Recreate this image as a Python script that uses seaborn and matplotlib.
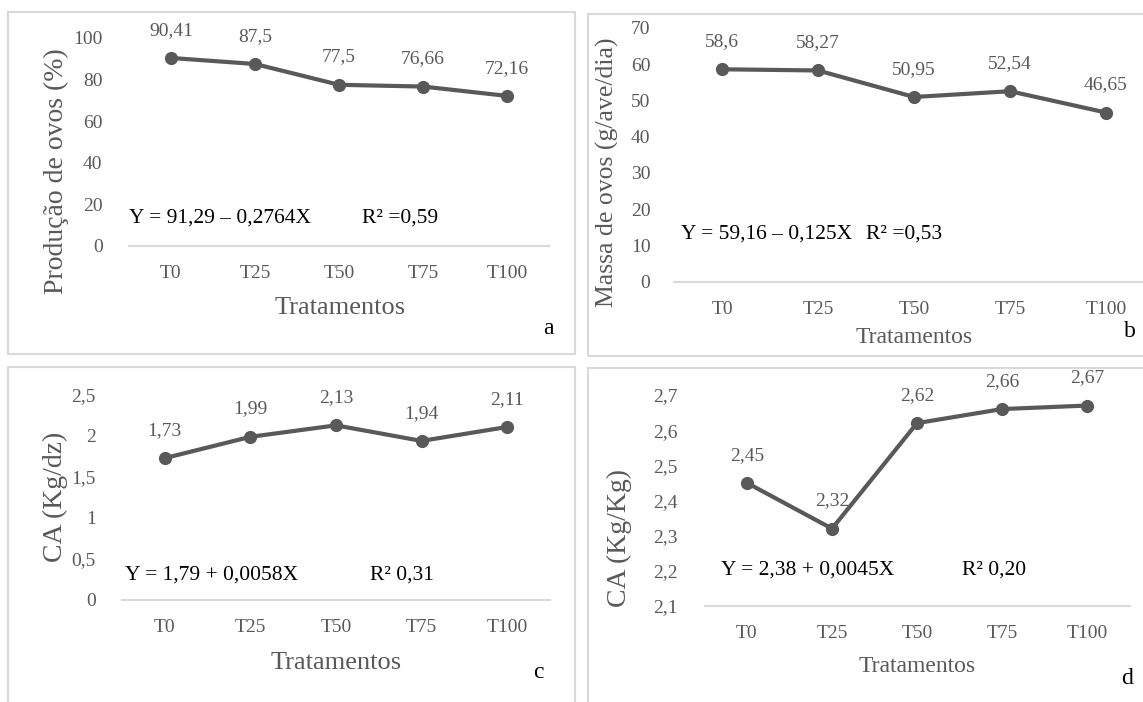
import matplotlib
matplotlib.use("Agg")
import matplotlib.pyplot as plt
from matplotlib.patches import Rectangle
import seaborn as sns

# dados
tratamentos = ["T0", "T25", "T50", "T75", "T100"]
producao = [90.41, 87.5, 77.5, 76.66, 72.16]
massa = [58.6, 58.27, 50.95, 52.54, 46.65]
ca_dz = [1.73, 1.99, 2.13, 1.94, 2.11]
ca_kg = [2.45, 2.32, 2.62, 2.66, 2.67]

ticks_a = [0, 20, 40, 60, 80, 100]
ticks_b = [0, 10, 20, 30, 40, 50, 60, 70]
ticks_c = [0, 0.5, 1, 1.5, 2, 2.5]
ticks_d = [2.1, 2.2, 2.3, 2.4, 2.5, 2.6, 2.7]

sns.set_style("white")
plt.rcParams["font.family"] = ["Liberation Serif", "DejaVu Serif"]

W, H = 1143, 702
fig = plt.figure(figsize=(W / 100, H / 100), dpi=100)
GRAY = "#595959"


def fx(x):
    return x / W


def fy(y):
    return 1 - y / H


def painel(rect_px, box_px, valores, yticks, ylabel, ylfs, ylpos, xlfs, xlpos,
           eq, eq_pos, r2, r2_pos, letra, letra_pos, ylpad):
    left, top, right, bottom = rect_px
    ax = fig.add_axes([fx(left), fy(bottom), (right - left) / W, (bottom - top) / H])
    sns.lineplot(x=tratamentos, y=valores, ax=ax, sort=False, color=GRAY,
                 lw=3, marker="o", markersize=9.5, markeredgewidth=0)
    ax.set_xlim(-0.5, 4.5)
    ax.set_ylim(yticks[0], yticks[-1])
    ax.set_yticks(yticks)
    ax.set_yticklabels([f"{t:g}".replace(".", ",") for t in yticks])
    ax.tick_params(axis="both", length=0, labelsize=14, labelcolor=GRAY)
    ax.tick_params(axis="y", pad=ylpad)
    ax.tick_params(axis="x", pad=14)
    for s in ["left", "right", "top"]:
        ax.spines[s].set_visible(False)
    ax.spines["bottom"].set_color("#d9d9d9")
    ax.spines["bottom"].set_linewidth(1.5)
    ax.patch.set_alpha(0)
    for i, v in enumerate(valores):
        ax.annotate(str(v).replace(".", ","), (i, v), xytext=(0, 20),
                    textcoords="offset points", ha="center", va="center",
                    fontsize=14, color=GRAY)
    ax.set_ylabel(ylabel, fontsize=ylfs, color=GRAY, va="center", ha="center")
    ax.yaxis.set_label_coords(fx(ylpos[0]), fy(ylpos[1]), transform=fig.transFigure)
    ax.set_xlabel("Tratamentos", fontsize=xlfs, color=GRAY, va="center", ha="center")
    ax.xaxis.set_label_coords(fx(xlpos[0]), fy(xlpos[1]), transform=fig.transFigure)
    fig.text(fx(eq_pos[0]), fy(eq_pos[1]), eq, fontsize=15.5, color="black",
             va="center", ha="left")
    fig.text(fx(r2_pos[0]), fy(r2_pos[1]), r2, fontsize=15.5, color="black",
             va="center", ha="left")
    fig.text(fx(letra_pos[0]), fy(letra_pos[1]), letra, fontsize=17, color="black",
             va="center", ha="center")
    bx0, by0, bx1, by1 = box_px
    fig.patches.append(Rectangle((fx(bx0), fy(by1)), (bx1 - bx0) / W, (by1 - by0) / H,
                                 transform=fig.transFigure, fill=False,
                                 edgecolor="#d9d9d9", lw=1.5))
    return ax


painel((129, 38, 549, 246), (8, 12, 575, 354), producao, ticks_a,
       "Produção de ovos (%)", 20, (56, 171), 19, (340, 308),
       "Y = 91,29 – 0,2764X", (129, 218), "R² =0,59", (362, 218),
       "a", (548, 328), 19)

painel((674, 28, 1154, 281.5), (588, 14, 1150, 356), massa, ticks_b,
       "Massa de ovos (g/ave/dia)", 18.5, (607, 172), 17, (914, 338),
       "Y = 59,16 – 0,125X", (681, 234), "R² =0,53", (866, 234),
       "b", (1130, 332), 17)

painel((122, 395, 550, 600), (8, 367, 575, 710), ca_dz, ticks_c,
       "CA (Kg/dz)", 20, (55, 497), 19, (336, 663),
       "Y = 1,79 + 0,0058X", (125, 575), "R² 0,31", (370, 575),
       "c", (538, 672), 19)

painel((704.5, 395, 1129.5, 606), (588, 368, 1150, 710), ca_kg, ticks_d,
       "CA (Kg/Kg)", 20, (619, 538), 17, (917, 666),
       "Y = 2,38 + 0,0045X", (721, 570), "R² 0,20", (962, 570),
       "d", (1127, 678), 19.5)

fig.savefig("out.png", dpi=100)
